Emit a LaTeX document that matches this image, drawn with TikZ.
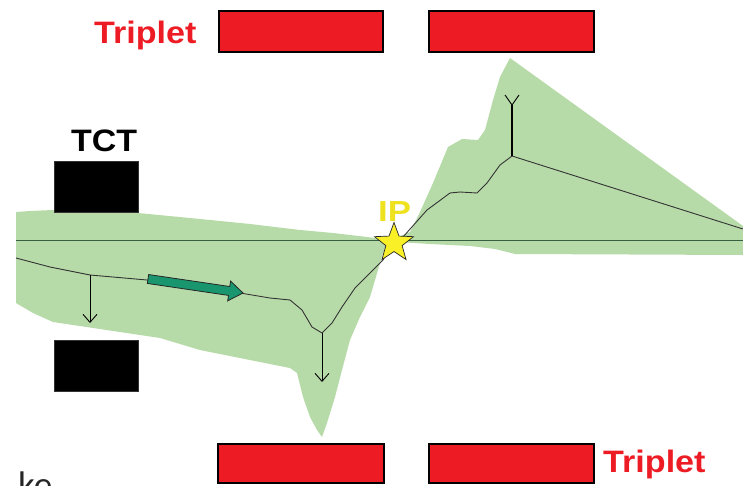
\documentclass[tikz,border=0pt]{standalone}
\usepackage{fontspec}
\setmainfont{Liberation Sans}
\newfontfamily\calibfont{Carlito}
\usetikzlibrary{shapes.geometric,arrows.meta}
\definecolor{tripred}{RGB}{237,28,36}
\definecolor{beamgreen}{RGB}{183,219,168}
\definecolor{axisgreen}{RGB}{55,95,65}
\definecolor{tealarrow}{RGB}{25,150,110}
\definecolor{ipyellow}{RGB}{238,226,30}
\definecolor{staryellow}{RGB}{250,240,40}
\begin{document}
\begin{tikzpicture}[x=1pt,y=-1pt,
  redbox/.style={draw=black,line width=1.2pt,fill=tripred,inner sep=0pt,minimum height=41pt},
  tctbox/.style={fill=black,draw=black!80,line width=0.6pt,inner sep=0pt,minimum width=84pt,minimum height=51pt},
  lbl/.style={inner sep=0pt,anchor=base west,font=\fontsize{31}{31}\selectfont\bfseries},
  traj/.style={draw=black!80,line width=0.9pt,line join=round},
  kickarrow/.style={draw=black,line width=0.9pt,-{Straight Barb[length=8pt,width=14pt,line width=0.9pt]}}
]
\useasboundingbox (0,0) rectangle (743,486);
\clip (0,0) rectangle (743,486);
% beam envelope
\fill[beamgreen] (16,212) -- (30,211) -- (53,210) -- (100,211) -- (138,213) -- (200,219)
  -- (250,224) -- (300,230) -- (333,233) -- (367,237) -- (390,240)
  -- (396,238) -- (410,232) -- (420,212) -- (433,183) -- (448,147) -- (462,139)
  -- (478,140) -- (485,130) -- (493,100) -- (500,77) -- (510,58)
  -- (743,226) -- (743,255) -- (515,254) -- (495,249) -- (470,246) -- (430,244)
  -- (398,242) -- (390,246) -- (383,253) -- (370,297) -- (360,317) -- (350,340)
  -- (342,370) -- (335,397) -- (327,423) -- (322,437) -- (317,430) -- (310,417)
  -- (303,397) -- (297,373) -- (290,368) -- (200,350) -- (160,338)
  -- (53,322) -- (33,313) -- (16,303) -- cycle;
% axis
\coordinate (axL) at (16,240);
\coordinate (axR) at (743,240);
\draw[axisgreen,line width=1pt] (axL) -- (axR);
% trajectory
\draw[traj] (16,258) -- (50,267) -- (90,275) -- (147,280) -- (240,293) -- (270,298)
  -- (290,300) -- (302,310) -- (312,327) -- (322,333) -- (332,323) -- (342,307)
  -- (355,288) -- (370,273) -- (383,260) -- (394,241) -- (403,237) -- (427,210)
  -- (450,193) -- (460,192) -- (477,193) -- (487,183) -- (500,165) -- (512,156)
  -- (743,229);
% kicks
\coordinate (k1s) at (90,275);
\coordinate (k1e) at (90,323);
\coordinate (k2s) at (322,333);
\coordinate (k2e) at (322,382);
\coordinate (k3s) at (512,156);
\coordinate (k3e) at (512,105);
\coordinate (k3l) at (505,95);
\coordinate (k3r) at (519,95);
\draw[kickarrow] (k1s) -- (k1e);
\draw[kickarrow] (k2s) -- (k2e);
\draw[black,line width=1.6pt] (k3s) -- (k3e);
\draw[black,line width=0.9pt,line join=miter] (k3l) -- (k3e) -- (k3r);
% green direction arrow
\fill[tealarrow,draw=black!85,line width=0.8pt,line join=miter]
  (148.66,274.55) -- (229.81,286.51) -- (230.61,281.06) -- (243,293)
  -- (227.69,300.86) -- (228.49,295.41) -- (147.34,283.45) -- cycle;
% triplets
\node[redbox,minimum width=164pt] (q1) at (301,31.5) {};
\node[redbox,minimum width=165pt] (q2) at (511.5,31.5) {};
\node[redbox,minimum width=166pt,minimum height=39pt] (q3) at (301,463.5) {};
\node[redbox,minimum width=165pt,minimum height=39pt] (q4) at (511.5,463.5) {};
% TCT jaws
\node[tctbox] (tct1) at (96,186.5) {};
\node[tctbox] (tct2) at (96,366) {};
% IP star
\node[star,star points=5,star point ratio=2.4,minimum size=41pt,inner sep=0pt,
  fill=staryellow,draw=black!85,line width=0.7pt] (ip) at (394,243) {};
% labels
\node[lbl,text=tripred] (lt1) at (94,44) {\scalebox{1.1}[1]{Triplet}};
\node[lbl,text=tripred] (lt2) at (603,472) {\scalebox{1.1}[1]{Triplet}};
\node[lbl,text=black] (ltct) at (71,152) {\scalebox{1.095}[1]{TCT}};
\node[lbl,text=ipyellow,font=\fontsize{29}{29}\selectfont\bfseries] (lip) at (378,222) {\scalebox{1.2}[1]{IP}};
\node[inner sep=0pt,anchor=base west,font=\calibfont\fontsize{37}{37}\selectfont,text=black!85] (ke) at (18,497) {ke};
\end{tikzpicture}
\end{document}
